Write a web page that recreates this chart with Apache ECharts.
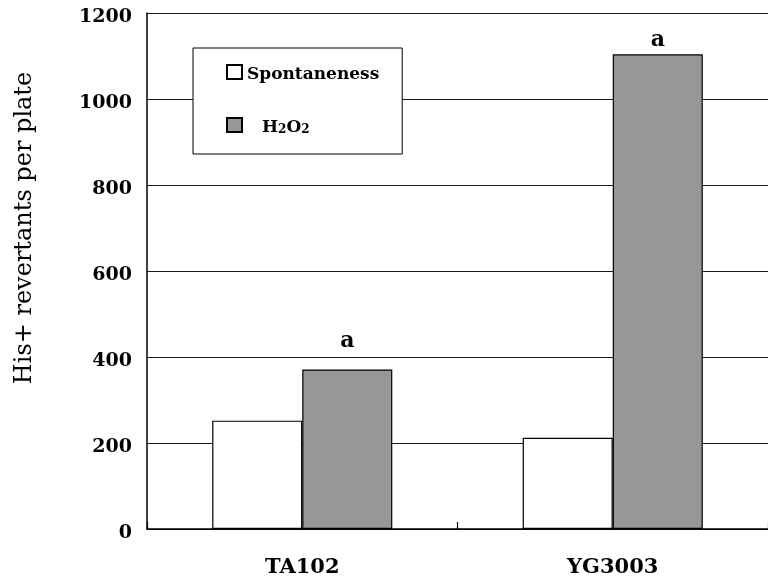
<!DOCTYPE html>
<html>
<head>
<meta charset="utf-8">
<script src="https://cdn.jsdelivr.net/npm/echarts@6/dist/echarts.min.js"></script>
<style>
  html, body { margin: 0; padding: 0; background: #ffffff; }
  #chart { width: 768px; height: 586px; }
</style>
</head>
<body>
<div id="chart"></div>
<script>
// ---- data ----
var categories = ['TA102', 'YG3003'];
var seriesNames = ['Spontaneness', 'H2O2'];
var spontaneous = [252, 212];
var h2o2 = [371, 1104];
var h2o2Marks = ['a', 'a'];
var yTicks = [0, 200, 400, 600, 800, 1000, 1200];
var yTitle = 'His+ revertants per plate';

// ---- chart ----
var FONT = 'DejaVu Serif';
var chart = echarts.init(document.getElementById('chart'), null, { renderer: 'canvas' });

var markDistance = [17, 3];
var h2o2Data = h2o2.map(function (v, i) {
  return {
    value: v,
    label: { show: true, formatter: h2o2Marks[i], distance: markDistance[i] }
  };
});

var option = {
  backgroundColor: '#ffffff',
  animation: false,
  grid: { left: 147, right: -7, top: 13, bottom: 57, containLabel: false },
  legend: {
    orient: 'vertical',
    left: 193,
    top: 48,
    padding: [13, 23, 18, 33],
    itemGap: 31,
    itemWidth: 15,
    itemHeight: 14,
    icon: 'rect',
    backgroundColor: '#ffffff',
    borderColor: '#000000',
    borderWidth: 1,
    borderRadius: 0,
    data: seriesNames,
    formatter: function (name) {
      if (name === 'H2O2') {
        return '{h|H}{s|2}{n|O}{s|2}';
      }
      return '{n|' + name + '}';
    },
    textStyle: {
      fontFamily: FONT,
      fontWeight: 'bold',
      fontSize: 17,
      color: '#000',
      lineHeight: 22,
      rich: {
        n: { fontFamily: FONT, fontWeight: 'bold', fontSize: 17, color: '#000', lineHeight: 22, verticalAlign: 'bottom' },
        h: { fontFamily: FONT, fontWeight: 'bold', fontSize: 17, color: '#000', lineHeight: 22, verticalAlign: 'bottom', padding: [0, 0, 0, 15] },
        s: { fontFamily: FONT, fontWeight: 'bold', fontSize: 12, color: '#000', lineHeight: 9, verticalAlign: 'bottom' }
      }
    }
  },
  xAxis: {
    type: 'category',
    data: categories,
    boundaryGap: true,
    axisLine: { show: true, lineStyle: { color: '#000', width: 1.5 } },
    axisTick: { show: true, inside: true, length: 7, lineStyle: { color: '#000', width: 1.2 } },
    axisLabel: {
      fontFamily: FONT,
      fontWeight: 'bold',
      fontSize: 21,
      color: '#000',
      margin: 28
    },
    splitLine: { show: false }
  },
  yAxis: {
    type: 'value',
    min: yTicks[0],
    max: yTicks[yTicks.length - 1],
    interval: yTicks[1] - yTicks[0],
    name: yTitle,
    nameLocation: 'middle',
    nameGap: 110,
    nameRotate: 90,
    nameTextStyle: {
      fontFamily: FONT,
      fontSize: 24,
      color: '#000',
      padding: [0, 0, 0, 86]
    },
    axisLine: { show: true, lineStyle: { color: '#000', width: 1.5 } },
    axisTick: { show: false },
    axisLabel: {
      margin: 15,
      formatter: function (v) { return '{v|' + String(v) + '}'; },
      rich: {
        v: {
          fontFamily: FONT,
          fontWeight: 'bold',
          fontSize: 19,
          color: '#000',
          padding: [9, 0, 0, 0]
        }
      }
    },
    splitLine: { show: true, lineStyle: { color: '#1a1a1a', width: 1.2 } }
  },
  series: [
    {
      name: seriesNames[0],
      type: 'bar',
      data: spontaneous,
      barGap: '0%',
      barCategoryGap: '42%',
      itemStyle: { color: '#ffffff', borderColor: '#000', borderWidth: 1.2 }
    },
    {
      name: seriesNames[1],
      type: 'bar',
      data: h2o2Data,
      barGap: '0%',
      barCategoryGap: '42%',
      itemStyle: {
        color: '#979797',
        borderColor: '#000',
        borderWidth: 1.2
      },
      label: {
        show: true,
        position: 'top',
        fontFamily: FONT,
        fontWeight: 'bold',
        fontSize: 22,
        color: '#000'
      }
    }
  ]
};

chart.setOption(option);
</script>
</body>
</html>
